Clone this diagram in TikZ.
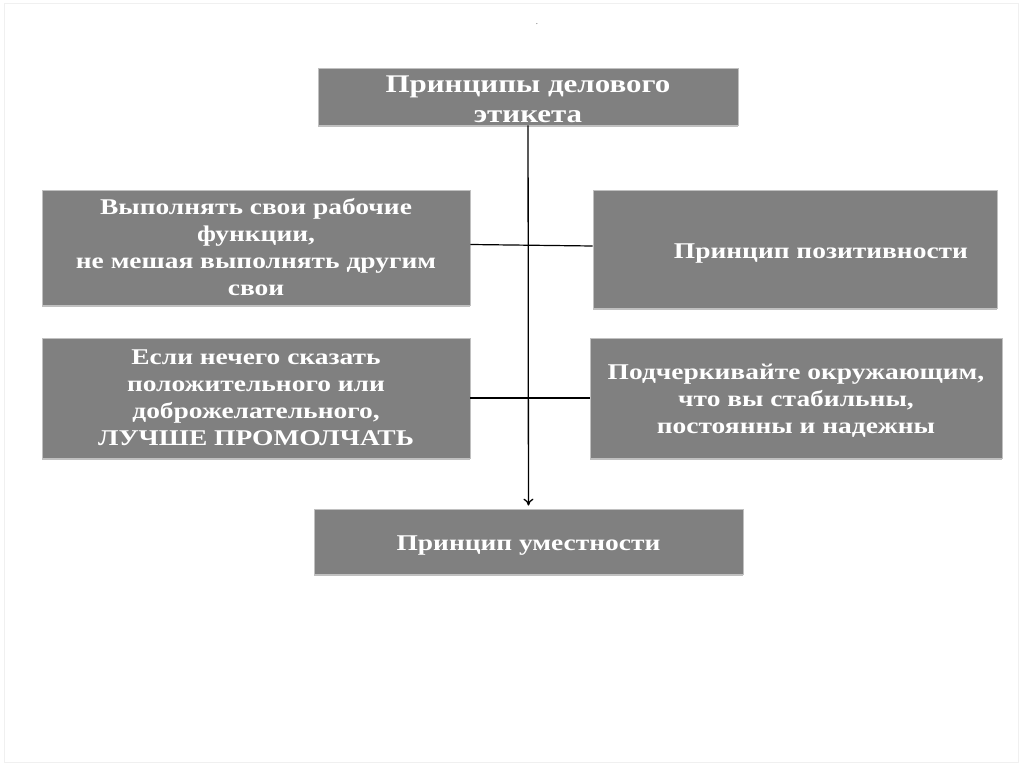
\documentclass[tikz,border=0pt]{standalone}
\usepackage{fontspec}
\setmainfont{Liberation Serif}
\newfontfamily\etifont[FakeStretch=1.22]{Liberation Serif}
\usetikzlibrary{arrows.meta,shadows}
\definecolor{BoxGray}{RGB}{128,128,128}
\definecolor{EdgeGray}{RGB}{192,192,192}
\definecolor{FrameGray}{RGB}{240,240,240}
\tikzset{
  etibox/.style={fill=BoxGray, draw=EdgeGray, line width=0.8pt, text=white,
    align=center, inner sep=0pt, font=\etifont\fontsize{22.5}{27}\selectfont\bfseries,
    drop shadow={shadow xshift=0pt, shadow yshift=-2pt, fill=EdgeGray, opacity=1}},
  titlebox/.style={etibox, font=\etifont\fontsize{25.4}{30}\selectfont\bfseries},
  linkarr/.style={-{To[length=7pt, width=10pt]}, line width=1.3pt, black},
  linkline/.style={line width=1.2pt, black},
}

\begin{document}
\begin{tikzpicture}[x=1pt, y=-1pt]
    \useasboundingbox (0,0) rectangle (1024,767);
    \draw[FrameGray, line width=0.6pt] (4,3) rectangle (1018,762);
    \node[font=\scriptsize] (dot) at (537,24) {.};
    % principles of business etiquette
    \node[titlebox, minimum width=420pt, minimum height=57pt] (top) at (528,96.5)
      {\rule{0pt}{23pt}Принципы делового\\этикета};
    \node[etibox, minimum width=428pt, minimum height=115pt] (left1) at (256,247.5)
      {Выполнять свои рабочие\\функции,\\не мешая выполнять другим\\свои};
    \node[etibox, minimum width=404pt, minimum height=118pt,
      text height=18.5pt, text depth=0pt] (right1) at (795,249)
      {\hspace*{52pt}Принцип позитивности};
    \node[etibox, minimum width=428pt, minimum height=120pt] (left2) at (256,398)
      {Если нечего сказать\\положительного или\\доброжелательного,\\ЛУЧШЕ ПРОМОЛЧАТЬ};
    \node[etibox, minimum width=412pt, minimum height=120pt] (right2) at (796,398)
      {\rule{0pt}{21pt}Подчеркивайте окружающим,\\что вы стабильны,\\постоянны и надежны};
    \node[etibox, minimum width=429pt, minimum height=65pt,
      text height=18.5pt, text depth=0pt] (bottom) at (528.5,541.5)
      {Принцип уместности};
    \draw[linkline] ([yshift=3pt]left1.east) -- ([yshift=3pt]right1.west);
    \draw[linkline] (left2) -- (right2);
    \draw[linkarr, shorten >=3pt] (top) -- (bottom);
  \end{tikzpicture}
\end{document}
